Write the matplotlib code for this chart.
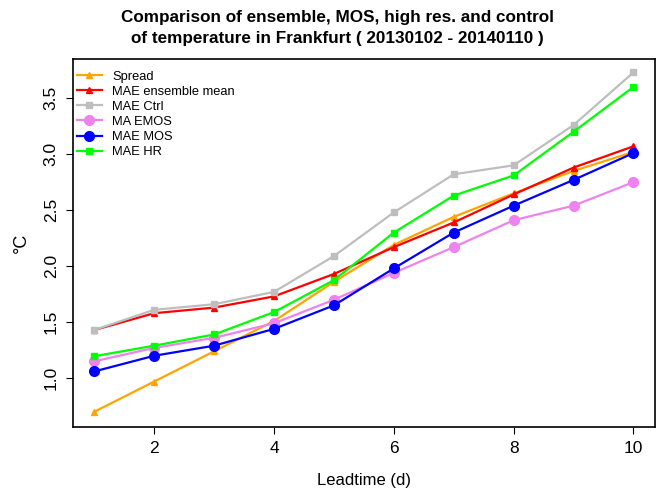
import matplotlib
matplotlib.use("Agg")
import matplotlib.pyplot as plt

plt.rcParams["font.family"] = ["Liberation Sans", "DejaVu Sans"]

leadtime = [1, 2, 3, 4, 5, 6, 7, 8, 9, 10]
spread = [0.70, 0.97, 1.24, 1.51, 1.86, 2.19, 2.44, 2.65, 2.85, 3.02]
mae_ens = [1.43, 1.58, 1.63, 1.73, 1.93, 2.17, 2.39, 2.64, 2.88, 3.07]
mae_ctrl = [1.43, 1.61, 1.66, 1.77, 2.09, 2.48, 2.82, 2.90, 3.26, 3.73]
ma_emos = [1.15, 1.27, 1.36, 1.49, 1.70, 1.94, 2.17, 2.41, 2.54, 2.75]
mae_mos = [1.06, 1.20, 1.29, 1.44, 1.65, 1.98, 2.30, 2.54, 2.77, 3.01]
mae_hr = [1.196, 1.29, 1.39, 1.59, 1.875, 2.30, 2.63, 2.81, 3.20, 3.60]

series = [
    ("Spread", spread, "#FFA500", "^", 5),
    ("MAE ensemble mean", mae_ens, "#FF0000", "^", 5),
    ("MAE Ctrl", mae_ctrl, "#BEBEBE", "s", 4),
    ("MA EMOS", ma_emos, "#EE82EE", "o", 7),
    ("MAE MOS", mae_mos, "#0000FF", "o", 7),
    ("MAE HR", mae_hr, "#00FF00", "s", 4),
]

fig = plt.figure(figsize=(6.61, 4.91), dpi=100)
ax = fig.add_axes([0.110, 0.130, 0.881, 0.750])

for label, vals, col, mk, ms in series:
    ax.plot(leadtime, vals, color=col, marker=mk, markersize=ms, linewidth=1.6, label=label)

ax.set_xlim(0.64, 10.36)
ax.set_ylim(0.5625, 3.85)
ax.set_xticks([2, 4, 6, 8, 10])
ax.set_yticks([1.0, 1.5, 2.0, 2.5, 3.0, 3.5])
ax.set_yticklabels(["1.0", "1.5", "2.0", "2.5", "3.0", "3.5"], rotation=90, va="center")
ax.tick_params(direction="out", length=5, labelsize=12.5, pad=5)
for s in ax.spines.values():
    s.set_linewidth(1.2)

ax.set_xlabel("Leadtime (d)", fontsize=12, labelpad=12)
ax.set_ylabel("°C", fontsize=13, labelpad=10)
fig.suptitle("Comparison of ensemble, MOS, high res. and control\nof temperature in Frankfurt ( 20130102 - 20140110 )",
             x=0.51, y=0.979, va="top", fontsize=12.3, fontweight="bold", linespacing=1.45)

ax.legend(loc="upper left", bbox_to_anchor=(0, 0.979), borderaxespad=0, fontsize=9.3,
          frameon=False, labelspacing=0.24, handlelength=1.93, handletextpad=0.85,
          borderpad=0.3)

fig.savefig("out.png", dpi=100)
